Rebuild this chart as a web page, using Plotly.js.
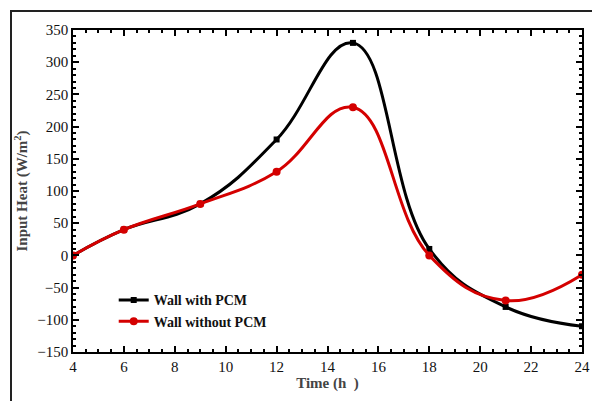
<!DOCTYPE html>
<html>
<head>
<script src="https://cdn.plot.ly/plotly-3.0.1.min.js"></script>
<style>
body { margin: 0; background: #fff; }
#frame { position: absolute; left: 10px; top: 10px; width: 600px; height: 400px; border: 2px solid #222; border-right: none; border-bottom: none; }
#graph { position: absolute; left: 0; top: 0; width: 592px; height: 401px; }
</style>
</head>
<body>
<div id="frame"></div>
<div id="graph"></div>
<script>
var hours = [4, 6, 9, 12, 15, 18, 21, 24];
var withPCM = [0, 40, 80, 180, 330, 10, -80, -110];
var withoutPCM = [0, 40, 80, 130, 230, 0, -70, -30];

var font = { family: "Liberation Serif, Times New Roman, serif", size: 14, color: "#111" };

var data = [
  {
    x: hours, y: withPCM, mode: "lines+markers", type: "scatter",
    line: { color: "#000", width: 3, shape: "spline", smoothing: 1.2 },
    marker: { symbol: "square", size: 6, color: "#000" },
    name: "Wall with PCM"
  },
  {
    x: hours, y: withoutPCM, mode: "lines+markers", type: "scatter",
    line: { color: "#d40000", width: 3, shape: "spline", smoothing: 1.2 },
    marker: { symbol: "circle", size: 8, color: "#d40000" },
    name: "Wall without PCM"
  }
];

var axisCommon = {
  showgrid: false, zeroline: false, showline: true, mirror: "allticks",
  linecolor: "#000", linewidth: 1.5, ticks: "inside", ticklen: 6, tickwidth: 1.5, tickcolor: "#000",
  tickfont: { family: font.family, size: 15, color: "#111" }
};

var layout = {
  width: 592, height: 401,
  paper_bgcolor: "rgba(0,0,0,0)", plot_bgcolor: "#fff",
  margin: { l: 73, r: 10, t: 30, b: 49 },
  showlegend: true,
  legend: {
    x: 0.08, y: 0.21, xanchor: "left", yanchor: "top", bgcolor: "rgba(0,0,0,0)",
    font: { family: font.family, size: 14, color: "#111", weight: "bold" }
  },
  xaxis: Object.assign({}, axisCommon, {
    range: [4, 24], dtick: 2,
    minor: { dtick: 0.5, ticks: "inside", ticklen: 3, tickcolor: "#000" },
    title: { text: "<b>Time (h  )</b>", font: { family: font.family, size: 15 }, standoff: 4 }
  }),
  yaxis: Object.assign({}, axisCommon, {
    range: [-150, 350], dtick: 50,
    minor: { dtick: 10, ticks: "inside", ticklen: 3, tickcolor: "#000" },
    title: { text: "<b>Input Heat (W/m<sup>2</sup>)</b>", font: { family: font.family, size: 15 }, standoff: 6 }
  })
};

Plotly.newPlot("graph", data, layout, { displayModeBar: false });
</script>
</body>
</html>
